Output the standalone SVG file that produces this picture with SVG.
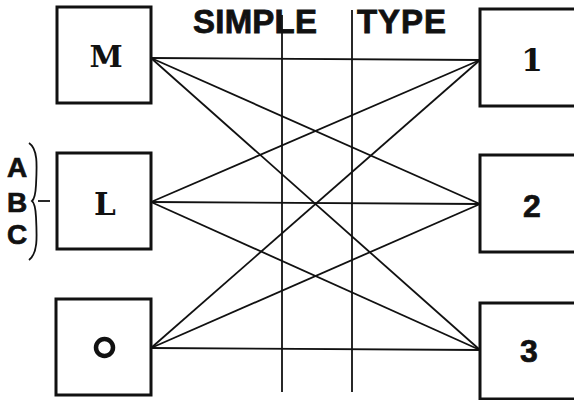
<svg xmlns="http://www.w3.org/2000/svg" width="574" height="400" viewBox="0 0 574 400">
  <style>
    .box { fill: #fff; stroke: #111; stroke-width: 3; }
    .wire { stroke: #111; stroke-width: 1.8; fill: none; }
    .rule { stroke: #111; stroke-width: 1.8; fill: none; }
    .serif { font-family: "DejaVu Serif", "Liberation Serif", serif; font-weight: bold; fill: #111; text-anchor: middle; }
    .sans { font-family: "Liberation Sans", "DejaVu Sans", sans-serif; font-weight: bold; fill: #111; text-anchor: middle; stroke: #111; stroke-width: 0.7; }
    .title { font-family: "Liberation Sans", "DejaVu Sans", sans-serif; font-weight: bold; fill: #111; font-size: 33px; stroke: #111; stroke-width: 0.8; }
  </style>

  <rect width="574" height="400" fill="#fff"/>

  <!-- heading -->
  <text class="title" x="193" y="33" textLength="124">SIMPLE</text>
  <text class="title" x="357" y="33" textLength="89">TYPE</text>

  <!-- vertical guide rules -->
  <g id="rules">
    <line class="rule" x1="282" y1="15" x2="282" y2="392"/>
    <line class="rule" x1="352" y1="10" x2="352" y2="392"/>
  </g>

  <!-- every left node joined to every right node -->
  <g id="connectors">
    <line class="wire" x1="151" y1="58" x2="480" y2="60"/>
    <line class="wire" x1="151" y1="58" x2="480" y2="204"/>
    <line class="wire" x1="151" y1="58" x2="480" y2="350"/>
    <line class="wire" x1="151" y1="202" x2="480" y2="60"/>
    <line class="wire" x1="151" y1="202" x2="480" y2="204"/>
    <line class="wire" x1="151" y1="202" x2="480" y2="350"/>
    <line class="wire" x1="151" y1="348" x2="480" y2="60"/>
    <line class="wire" x1="151" y1="348" x2="480" y2="204"/>
    <line class="wire" x1="151" y1="348" x2="480" y2="350"/>
  </g>

  <g id="node-M">
    <rect class="box" x="57" y="7" width="94" height="96"/>
    <text class="serif" x="106" y="67" font-size="30">M</text>
  </g>
  <g id="node-L">
    <rect class="box" x="57" y="153" width="94" height="96"/>
    <text class="serif" x="105" y="215" font-size="31">L</text>
  </g>
  <g id="node-O">
    <rect class="box" x="56" y="299" width="95" height="96"/>
    <circle cx="104.5" cy="347.5" r="8.5" fill="none" stroke="#111" stroke-width="4.5"/>
  </g>

  <g id="node-1">
    <rect class="box" x="480" y="9" width="100" height="97"/>
    <text class="serif" x="532" y="71" font-size="31">1</text>
  </g>
  <g id="node-2">
    <rect class="box" x="480" y="155" width="100" height="97"/>
    <text class="sans" x="532" y="217" font-size="32">2</text>
  </g>
  <g id="node-3">
    <rect class="box" x="480" y="303" width="100" height="96"/>
    <text class="sans" x="529" y="362" font-size="32">3</text>
  </g>

  <!-- A/B/C bracket feeding L -->
  <g id="abc">
    <text class="sans" x="17" y="177" font-size="28">A</text>
    <text class="sans" x="17" y="212" font-size="28">B</text>
    <text class="sans" x="17" y="244" font-size="28">C</text>
    <path d="M29,143 C38,149 37,165 36,185 C35.5,195 34.5,199 32,201 C34.5,203 35.5,207 36,217 C37,237 38,253 29,260" fill="none" stroke="#111" stroke-width="1.8"/>
    <line x1="38" y1="201" x2="50" y2="201" stroke="#111" stroke-width="1.8"/>
  </g>
</svg>
